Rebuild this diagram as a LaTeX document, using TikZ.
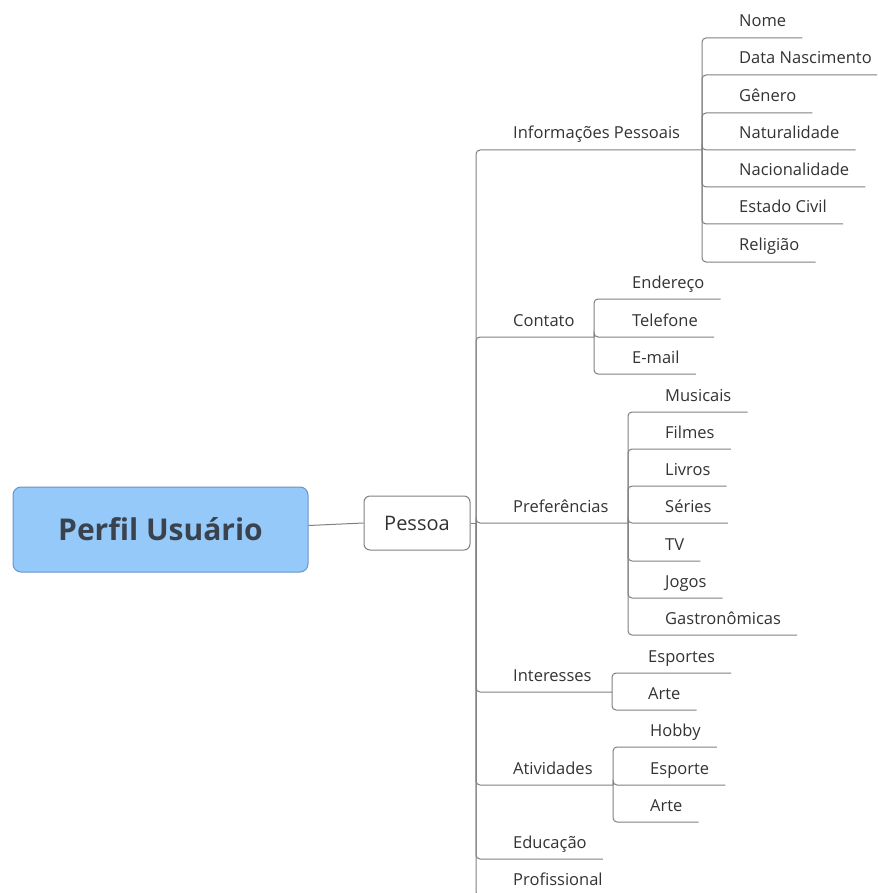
\documentclass[tikz,border=0pt]{standalone}
\usepackage{fontspec}
\setmainfont{Open Sans}
\usetikzlibrary{calc}
\definecolor{rootfill}{RGB}{148,201,249}
\definecolor{rootdraw}{RGB}{104,150,200}
\definecolor{roottxt}{RGB}{58,66,78}
\definecolor{txt}{RGB}{51,51,51}
\definecolor{ln}{RGB}{128,128,128}
\tikzset{
  item/.style={anchor=base west, inner sep=0pt, font=\fontsize{16.5}{18}\selectfont, text=txt},
  br/.style={draw=ln, line width=1pt, rounded corners=4pt},
  rootbox/.style={draw=rootdraw, line width=1pt, fill=rootfill, rounded corners=8pt,
    minimum width=295pt, minimum height=85pt, inner sep=0pt,
    font=\fontsize{30}{34}\bfseries\selectfont, text=roottxt},
  topicbox/.style={draw=ln, line width=1pt, fill=white, rounded corners=6pt,
    minimum width=106pt, minimum height=54pt, inner sep=0pt,
    font=\fontsize{20}{24}\selectfont, text=txt},
}
\begin{document}
\begin{tikzpicture}[x=1pt,y=-1pt]
\clip (0,0) rectangle (877,893);
\fill[white] (0,0) rectangle (877,893);
\node[rootbox] (root) at (160.5,529.5) {Perfil Usuário};
\node[topicbox] (pessoa) at (417,523) {Pessoa};
\draw[br] ([yshift=4pt]root.east) -- (pessoa.west);
\coordinate (trunk) at (476,523);
\draw[br] (pessoa.east) -- (trunk);
% level 1 labels
\node[item] (info) at (513,139) {Informações Pessoais};
\node[item] (cont) at (513,326) {Contato};
\node[item] (pref) at (513,512) {Preferências};
\node[item] (inte) at (513,681) {Interesses};
\node[item] (ativ) at (513,774) {Atividades};
\node[item] (educ) at (513,848) {Educação};
\node[item] (prof) at (513,885) {Profissional};
% junctions
\coordinate (jinfo) at (702,150);
\coordinate (jcont) at (594,337);
\coordinate (jpref) at (628,523);
\coordinate (jinte) at (612,692);
\coordinate (jativ) at (613,785);
\draw[br] (trunk) |- (jinfo);
\draw[br] (trunk) |- (jcont);
\draw[br] (trunk) |- (jpref);
\draw[br] (trunk) |- (jinte);
\draw[br] (trunk) |- (jativ);
\draw[br] (trunk) |- ($(educ.base east)+(16,11)$);
\draw[br] (trunk) |- ($(prof.base east)+(16,11)$);
% Informacoes Pessoais
\foreach \n/\t/\y in {nome/Nome/38, data/Data Nascimento/75, gene/Gênero/113,
  natu/Naturalidade/150, naci/Nacionalidade/187, esta/Estado Civil/224, reli/Religião/262}{
  \node[item] (\n) at (739,\y-11) {\t};
  \draw[br] (jinfo) |- ($(\n.base east)+(16,11)$);
}
% Contato
\foreach \n/\t/\y in {ende/Endereço/299, tele/Telefone/337, emai/E-mail/374}{
  \node[item] (\n) at (632,\y-11) {\t};
  \draw[br] (jcont) |- ($(\n.base east)+(16,11)$);
}
% Preferencias
\foreach \n/\t/\y in {musi/Musicais/412, film/Filmes/449, livr/Livros/486, seri/Séries/523,
  tv/TV/561, jogo/Jogos/598, gast/Gastronômicas/635}{
  \node[item] (\n) at (665,\y-11) {\t};
  \draw[br] (jpref) |- ($(\n.base east)+(16,11)$);
}
% Interesses
\foreach \n/\t/\y in {espo/Esportes/673, arte/Arte/710}{
  \node[item] (\n) at (648,\y-11) {\t};
  \draw[br] (jinte) |- ($(\n.base east)+(16,11)$);
}
% Atividades
\foreach \n/\t/\y in {hobb/Hobby/747, espt/Esporte/785, arta/Arte/822}{
  \node[item] (\n) at (650,\y-11) {\t};
  \draw[br] (jativ) |- ($(\n.base east)+(16,11)$);
}
\end{tikzpicture}
\end{document}
